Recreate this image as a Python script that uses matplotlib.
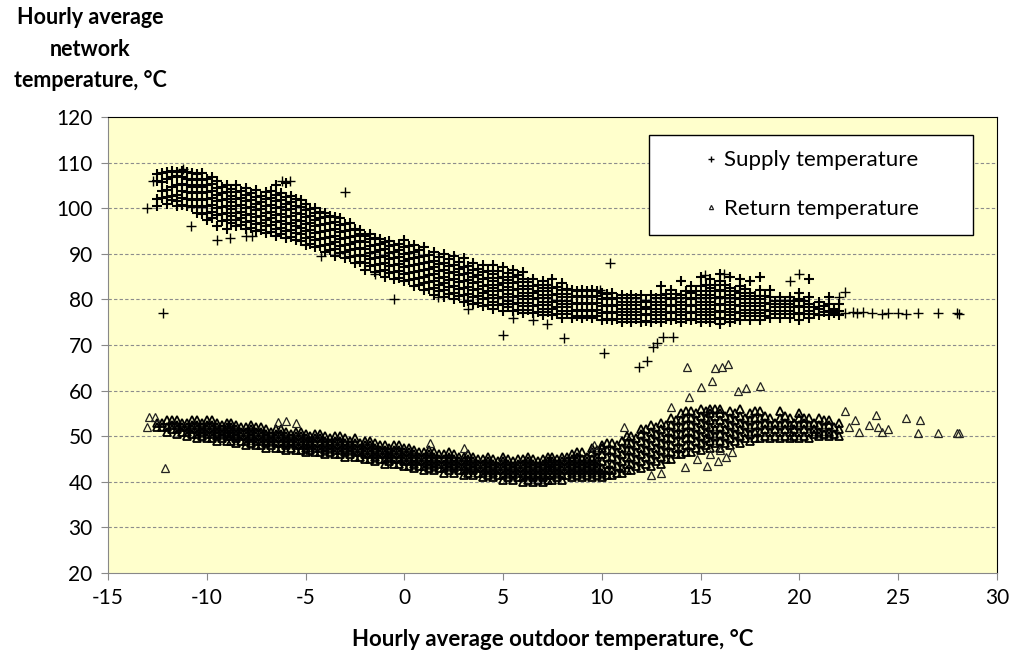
import numpy as np
import matplotlib.pyplot as plt

plt.rcParams['font.family'] = ['Lato', 'DejaVu Sans']
plt.rcParams['axes.unicode_minus'] = False

# supply temperature, dense band read column by column (outdoor temp -> network temps)
sup_cols_x = [-12.5, -12.0, -11.5, -11.0, -10.5, -10.0, -9.5, -9.0, -8.5, -8.0,
              -7.5, -7.0, -6.5, -6.0, -5.5, -5.0, -4.5, -4.0, -3.5, -3.0,
              -2.5, -2.0, -1.5, -1.0, -0.5, 0.0, 0.5, 1.0, 1.5, 2.0,
              2.5, 3.0, 3.5, 4.0, 4.5, 5.0, 5.5, 6.0, 6.5, 7.0,
              7.5, 8.0, 8.5, 9.0, 9.5, 10.0, 10.5, 11.0, 11.5, 12.0,
              12.5, 13.0, 13.5, 14.0, 14.5, 15.0, 15.5, 16.0, 16.5, 17.0,
              17.5, 18.0, 18.5, 19.0, 19.5, 20.0, 20.5, 21.0, 21.5, 22.0]
sup_cols_y = [
    [100.5, 102, 106, 107.5],
    [101, 102.5, 104, 106.5, 108],
    [100.5, 101.5, 103, 105, 107, 108],
    [100.5, 102, 103.5, 105, 106.5, 108],
    [99, 100.5, 102, 103.5, 105, 106.5, 107.5],
    [97.5, 99, 100.5, 102, 103.5, 105, 106.5],
    [96, 98.5, 100, 101.5, 103, 104.5, 106],
    [95.5, 97.5, 99, 100.5, 102, 103.5, 105],
    [96, 97.5, 99, 100.5, 102, 103.5, 105],
    [95.5, 97, 98.5, 100, 101.5, 103, 104.5],
    [95, 96.5, 98, 99.5, 101, 102.5, 104],
    [94.5, 96, 97.5, 99, 100.5, 102, 103.5],
    [94, 95.5, 97, 98.5, 100, 101.5, 103, 105],
    [93.5, 95, 96.5, 98, 99.5, 101, 102.5, 105.5],
    [93, 94.5, 96, 97.5, 99, 100.5, 102],
    [92, 93.5, 95, 96.5, 98, 99.5, 101],
    [91.5, 93, 94.5, 96, 97.5, 99, 100],
    [90.5, 92, 93.5, 95, 96.5, 98, 99],
    [89.5, 91, 92.5, 94, 95.5, 97, 98],
    [89, 90.5, 92, 93.5, 95, 96.5],
    [88, 89.5, 91, 92.5, 94, 95.5],
    [86.5, 88, 89.5, 91, 92.5, 94],
    [86, 87.5, 89, 90.5, 92, 93.5],
    [85, 86.5, 88, 89.5, 91, 92.5],
    [84.5, 86, 87.5, 89, 90.5, 92],
    [84, 85.5, 87, 88.5, 90, 91.5, 93],
    [83, 84.5, 86, 87.5, 89, 90.5, 92],
    [82, 83.5, 85, 86.5, 88, 89.5, 91.5],
    [81, 82.5, 84, 85.5, 87, 88.5, 90.5],
    [80.5, 82, 83.5, 85, 86.5, 88, 90],
    [80, 81.5, 83, 84.5, 86, 87.5, 89.5],
    [79.5, 81, 82.5, 84, 85.5, 87, 89],
    [79, 80.5, 82, 83.5, 85, 86.5, 88],
    [78.5, 80, 81.5, 83, 84.5, 86, 87.5],
    [78, 79.5, 81, 82.5, 84, 85.5, 87.5],
    [77.5, 79, 80.5, 82, 83.5, 85, 87],
    [77.5, 79, 80.5, 82, 83.5, 85, 86.5],
    [77, 78.5, 80, 81.5, 83, 84.5, 86],
    [77, 78.5, 80, 81.5, 83, 84.5],
    [76.5, 78, 79.5, 81, 82.5, 84],
    [76.5, 78, 79.5, 81, 82.5, 84.5],
    [76, 77.5, 79, 80.5, 82, 83.5],
    [76, 77.5, 79, 80.5, 82],
    [76, 77.5, 79, 80.5, 82],
    [76, 77.5, 79, 80.5, 82],
    [75.5, 77, 78.5, 80, 81.5],
    [75.5, 77, 78.5, 80, 81.5],
    [75, 76.5, 78, 79.5, 81],
    [75, 76.5, 78, 79.5, 81],
    [75, 76.5, 78, 79.5, 81],
    [75, 76.5, 78, 79.5, 81],
    [75, 76.5, 78, 79.5, 81, 83],
    [75.5, 77, 78.5, 80, 82],
    [75, 76.5, 78, 79.5, 81, 84],
    [75.5, 77, 78.5, 80, 81.5, 83],
    [75, 76.5, 78, 79.5, 81, 83, 85],
    [75, 76.5, 78, 79.5, 81, 82.5, 84.5],
    [74.5, 76, 77.5, 79, 80.5, 82, 84, 85.5],
    [75, 76.5, 78, 79.5, 81, 82.5, 85],
    [75.5, 77, 78.5, 80, 81.5, 83, 84.5],
    [75.5, 77, 78.5, 80, 81.5, 84],
    [75.5, 77, 78.5, 80, 82, 85],
    [76, 77.5, 79, 80.5, 82],
    [76, 77.5, 79, 80.5],
    [76, 77.5, 79, 80.5],
    [75.5, 77, 78.5, 80, 81.5],
    [76, 77.5, 79, 80.5, 84.5],
    [76.5, 78, 79.5],
    [76.5, 77.5, 79, 80.5],
    [76.5, 77.5, 79],
]
# second pass of supply columns, read between the first ones
sup_cols2_x = [-12.25, -11.75, -11.25, -10.75, -10.25, -9.75, -9.25, -8.75, -8.25, -7.75,
               -7.25, -6.75, -6.25, -5.75, -5.25, -4.75, -4.25, -3.75, -3.25, -2.75,
               -2.25, -1.75, -1.25, -0.75, -0.25, 0.25, 0.75, 1.25, 1.75, 2.25,
               2.75, 3.25, 3.75, 4.25, 4.75, 5.25, 5.75, 6.25, 6.75, 7.25,
               7.75, 8.25, 8.75, 9.25, 9.75, 10.25, 10.75, 11.25, 11.75, 12.25,
               12.75, 13.25, 13.75, 14.25, 14.75, 15.25, 15.75, 16.25, 16.75, 17.25,
               17.75, 18.25, 18.75, 19.25, 19.75, 20.25, 20.75, 21.25, 21.75]
sup_cols2_y = [
    [102.25, 103.75, 105.75, 107.75],
    [101.75, 102.75, 104.75, 106.75, 108.25],
    [100.75, 102.25, 103.75, 105.25, 106.75, 108.25],
    [100.25, 101.75, 103.25, 104.75, 106.25, 107.75],
    [98.75, 100.25, 101.75, 103.25, 104.75, 106.25, 107.75],
    [97.75, 99.25, 100.75, 102.25, 103.75, 105.25, 106.75],
    [97.25, 98.75, 100.25, 101.75, 103.25, 104.75],
    [96.75, 98.25, 99.75, 101.25, 102.75, 104.25],
    [96.25, 97.75, 99.25, 100.75, 102.25, 103.75],
    [95.75, 97.25, 98.75, 100.25, 101.75, 103.25],
    [95.25, 96.75, 98.25, 99.75, 101.25, 102.75],
    [94.75, 96.25, 97.75, 99.25, 100.75, 102.25, 103.75],
    [94.25, 95.75, 97.25, 98.75, 100.25, 101.75, 103.25],
    [93.75, 95.25, 96.75, 98.25, 99.75, 101.25, 102.75],
    [92.75, 94.25, 95.75, 97.25, 98.75, 100.25, 101.75],
    [92.25, 93.75, 95.25, 96.75, 98.25, 99.75],
    [91.75, 93.25, 94.75, 96.25, 97.75, 99.25],
    [90.75, 92.25, 93.75, 95.25, 96.75, 98.25],
    [90.25, 91.75, 93.25, 94.75, 96.25, 97.75],
    [89.25, 90.75, 92.25, 93.75, 95.25, 96.75],
    [88.25, 89.75, 91.25, 92.75, 94.25, 95.25],
    [87.25, 88.75, 90.25, 91.75, 93.25, 94.25],
    [86.25, 87.75, 89.25, 90.75, 92.25, 93.25],
    [85.75, 87.25, 88.75, 90.25, 91.75, 92.75],
    [84.75, 86.25, 87.75, 89.25, 90.75, 92.25],
    [84.25, 85.75, 87.25, 88.75, 90.25, 91.75],
    [83.25, 84.75, 86.25, 87.75, 89.25, 90.75],
    [82.25, 83.75, 85.25, 86.75, 88.25, 89.75],
    [81.75, 83.25, 84.75, 86.25, 87.75, 89.25],
    [81.25, 82.75, 84.25, 85.75, 87.25, 88.75],
    [80.75, 82.25, 83.75, 85.25, 86.75, 88.25],
    [79.75, 81.25, 82.75, 84.25, 85.75, 87.25],
    [79.25, 80.75, 82.25, 83.75, 85.25, 86.75],
    [78.75, 80.25, 81.75, 83.25, 84.75, 86.25],
    [78.75, 80.25, 81.75, 83.25, 84.75, 86.25],
    [78.25, 79.75, 81.25, 82.75, 84.25, 85.75],
    [77.75, 79.25, 80.75, 82.25, 83.75, 85.25],
    [77.75, 79.25, 80.75, 82.25, 83.75],
    [77.25, 78.75, 80.25, 81.75, 83.25],
    [77.25, 78.75, 80.25, 81.75, 83.25],
    [76.75, 78.25, 79.75, 81.25, 82.75],
    [76.75, 78.25, 79.75, 81.25, 82.25],
    [76.25, 77.75, 79.25, 80.75, 81.75],
    [76.25, 77.75, 79.25, 80.75, 81.75],
    [76.25, 77.75, 79.25, 80.75, 81.75],
    [75.75, 77.25, 78.75, 80.25, 81.25],
    [75.75, 77.25, 78.75, 80.25],
    [75.75, 77.25, 78.75, 80.25],
    [75.75, 77.25, 78.75, 80.25],
    [75.25, 76.75, 78.25, 79.75],
    [75.75, 77.25, 78.75, 80.25],
    [75.75, 77.25, 78.75, 80.25, 81.25],
    [75.75, 77.25, 78.75, 80.25, 81.25],
    [75.75, 77.25, 78.75, 80.25, 81.75],
    [75.75, 77.25, 78.75, 80.25, 81.75],
    [75.75, 77.25, 78.75, 80.25, 81.75, 83.25],
    [75.75, 77.25, 78.75, 80.25, 81.75, 83.25],
    [75.75, 77.25, 78.75, 80.25, 81.75, 83.25],
    [75.75, 77.25, 78.75, 80.25, 81.75],
    [76.25, 77.75, 79.25, 80.75, 82.25],
    [76.25, 77.75, 79.25, 80.75],
    [76.25, 77.75, 79.25, 80.75],
    [76.75, 78.25, 79.75],
    [76.75, 78.25, 79.75],
    [76.75, 78.25, 79.75],
    [76.75, 78.25, 79.75],
    [76.75, 78.25],
    [77.25, 78.5],
    [77, 78],
]
# supply outliers and sparse tail
sup_extra_x = [-13.0, -12.7, -12.2, -11.2, -9.5, -8.8, -8.0, -6.2, -5.8, -3.0,
               -0.5, -1.5, 1.7, 5.0, 5.5, 6.5, 8.1, 10.1, 10.4, 11.9,
               12.3, 12.6, 12.8, 13.1, 13.6, 22.3, 22.7, 22.9, 23.2, 23.7,
               24.2, 24.5, 25.0, 25.4, 26.0, 27.0, 28.0, 28.1, 22.0, 22.3,
               20.0, 19.5, 16.2, 15.2, 9.9, 7.2, 3.2, -10.8, -7.7, -4.2]
sup_extra_y = [100.0, 106.0, 77.0, 108.5, 93.0, 93.5, 94.0, 106.0, 106.0, 103.5,
               80.0, 85.5, 80.5, 72.2, 76.0, 75.5, 71.5, 68.2, 88.0, 65.2,
               66.5, 69.5, 70.5, 71.8, 71.8, 77.0, 77.3, 77.0, 77.2, 77.0,
               76.8, 77.0, 77.0, 76.8, 77.0, 77.0, 77.0, 76.8, 80.5, 81.6,
               85.5, 84.0, 85.5, 85.3, 82.0, 74.5, 78.0, 96.0, 94.0, 89.5]

# return temperature, dense band read column by column
ret_cols_x = sup_cols_x
ret_cols_y = [
    [52, 53],
    [51, 52, 53.5],
    [50.5, 51.5, 52.5, 53.5],
    [50, 51, 52, 53],
    [49.5, 50.5, 51.5, 52.5, 53.5],
    [49.5, 50.5, 51.5, 52.5, 53.5],
    [49, 50, 51, 52, 53],
    [49, 50, 51, 52, 53],
    [48.5, 49.5, 50.5, 51.5, 52.5],
    [48, 49, 50, 51, 52],
    [48, 49, 50, 51, 52],
    [47.5, 48.5, 49.5, 50.5, 51.5],
    [47.5, 48.5, 49.5, 50.5, 51.5],
    [47, 48, 49, 50, 51],
    [47, 48, 49, 50, 51],
    [46.5, 47.5, 48.5, 49.5, 50.5],
    [46.5, 47.5, 48.5, 49.5, 50.5],
    [46, 47, 48, 49, 50],
    [46, 47, 48, 49, 50],
    [45.5, 46.5, 47.5, 48.5, 49.5],
    [45.5, 46.5, 47.5, 48.5, 49.5],
    [45, 46, 47, 48, 49],
    [44.5, 45.5, 46.5, 47.5, 48.5],
    [44, 45, 46, 47, 48],
    [44, 45, 46, 47, 48],
    [43.5, 44.5, 45.5, 46.5, 47.5],
    [43, 44, 45, 46, 47],
    [42.5, 43.5, 44.5, 45.5, 46.5],
    [42.5, 43.5, 44.5, 45.5, 46.5],
    [42, 43, 44, 45, 46],
    [42, 43, 44, 45, 46],
    [41.5, 42.5, 43.5, 44.5, 45.5],
    [41.5, 42.5, 43.5, 44.5, 45.5],
    [41, 42, 43, 44, 45],
    [41, 42, 43, 44, 45],
    [40.5, 41.5, 42.5, 43.5, 44.5, 45.5],
    [40.5, 41.5, 42.5, 43.5, 44.5],
    [40, 41, 42, 43, 44, 45],
    [40, 41, 42, 43, 44, 45],
    [40, 41, 42, 43, 44, 45],
    [40.5, 41.5, 42.5, 43.5, 44.5, 45.5],
    [40.5, 41.5, 42.5, 43.5, 44.5, 45.5],
    [41, 42, 43, 44, 45, 46],
    [41, 42, 43, 44, 45, 46.5],
    [41, 42, 43, 44, 45, 46.5, 47.5],
    [41, 42, 43, 44.5, 46, 47.5, 48],
    [41.5, 42.5, 44, 45.5, 47, 48.5],
    [42, 43, 44.5, 46, 47.5, 49],
    [42.5, 44, 45.5, 47, 48.5, 50],
    [43, 44.5, 46, 47.5, 49, 50.5, 51.5],
    [43.5, 45, 46.5, 48, 49.5, 51, 52.5],
    [44, 45.5, 47, 48.5, 50, 51.5, 53],
    [45, 46.5, 48, 49.5, 51, 52.5, 54],
    [46, 47.5, 49, 50.5, 52, 53.5, 55],
    [46.5, 48, 49.5, 51, 52.5, 54, 55.5],
    [47, 48.5, 50, 51.5, 53, 54.5, 56],
    [47.5, 49, 50.5, 52, 53.5, 55, 56],
    [47.5, 49, 50.5, 52, 53.5, 55, 56],
    [48, 49.5, 51, 52.5, 54, 55.5],
    [48.5, 50, 51.5, 53, 54.5, 56],
    [49, 50.5, 52, 53.5, 55],
    [49.5, 51, 52.5, 54, 55.5],
    [49.5, 51, 52.5, 54],
    [49.5, 51, 52.5, 54, 55.5],
    [49.5, 51, 52.5, 54],
    [49.5, 51, 52.5, 54, 55],
    [49.5, 51, 52.5, 54],
    [50, 51, 52.5, 54],
    [50, 51, 52.5, 53.5],
    [50, 51.5, 53],
]
ret_cols2_x = sup_cols2_x
ret_cols2_y = [
    [52, 53],
    [51.5, 52.5, 53.5],
    [51, 52, 53],
    [50.5, 51.5, 52.5, 53.5],
    [50, 51, 52, 53],
    [49.5, 50.5, 51.5, 52.5, 53.5],
    [49.5, 50.5, 51.5, 52.5],
    [49, 50, 51, 52, 53],
    [49, 50, 51, 52],
    [48.5, 49.5, 50.5, 51.5, 52.5],
    [48, 49, 50, 51, 52],
    [48, 49, 50, 51],
    [47.5, 48.5, 49.5, 50.5, 51.5],
    [47.5, 48.5, 49.5, 50.5],
    [47, 48, 49, 50, 51],
    [47, 48, 49, 50],
    [46.5, 47.5, 48.5, 49.5, 50.5],
    [46.5, 47.5, 48.5, 49.5],
    [46, 47, 48, 49, 50],
    [46, 47, 48, 49],
    [45.5, 46.5, 47.5, 48.5],
    [45, 46, 47, 48, 49],
    [45, 46, 47, 48],
    [44.5, 45.5, 46.5, 47.5],
    [44, 45, 46, 47, 48],
    [43.5, 44.5, 45.5, 46.5, 47.5],
    [43.5, 44.5, 45.5, 46.5],
    [43, 44, 45, 46, 47],
    [43, 44, 45, 46],
    [42.5, 43.5, 44.5, 45.5, 46.5],
    [42.5, 43.5, 44.5, 45.5],
    [42, 43, 44, 45, 46],
    [42, 43, 44, 45],
    [41.5, 42.5, 43.5, 44.5, 45.5],
    [41.5, 42.5, 43.5, 44.5],
    [41, 42, 43, 44, 45],
    [41, 42, 43, 44, 45],
    [40.5, 41.5, 42.5, 43.5, 44.5, 45.5],
    [40.5, 41.5, 42.5, 43.5, 44.5],
    [40.5, 41.5, 42.5, 43.5, 44.5, 45.5],
    [41, 42, 43, 44, 45],
    [41.5, 42.5, 43.5, 44.5, 45.5],
    [41.5, 42.5, 43.5, 44.5, 45.5, 46.5],
    [41.5, 42.5, 43.5, 44.5, 45.5],
    [41.5, 42.5, 43.5, 44.5, 45.5, 47],
    [41.5, 42.5, 44, 45.5, 47, 48.5],
    [42, 43.5, 45, 46.5, 48],
    [42.5, 44, 45.5, 47, 48.5, 50],
    [43.5, 45, 46.5, 48, 49.5],
    [44, 45.5, 47, 48.5, 50, 51.5],
    [44.5, 46, 47.5, 49, 50.5, 52],
    [45, 46.5, 48, 49.5, 51, 52.5],
    [46, 47.5, 49, 50.5, 52, 53.5],
    [46.5, 48, 49.5, 51, 52.5, 54, 55.5],
    [47.5, 49, 50.5, 52, 53.5, 55],
    [48, 49.5, 51, 52.5, 54, 55.5],
    [48.5, 50, 51.5, 53, 54.5, 56],
    [48.5, 50, 51.5, 53, 54.5],
    [49, 50.5, 52, 53.5, 55],
    [49.5, 51, 52.5, 54],
    [49.5, 51, 52.5, 54, 55.5],
    [50, 51.5, 53, 54.5],
    [50, 51.5, 53],
    [50, 51.5, 53, 54.5],
    [50, 51.5, 53],
    [50, 51.5, 53, 54],
    [50.5, 51.5, 53],
    [50.5, 52, 53.5],
    [50.5, 52],
]
# return outliers and sparse tail
ret_extra_x = [-13.0, -12.9, -12.6, -12.1, -6.4, -6.0, -5.5, 14.2, 15.3, 15.9,
               16.3, 16.6, 14.8, 15.5, 16.0, 14.3, 15.75, 16.1, 16.4, 15.6,
               15.0, 18.0, 14.4, 13.5, 11.1, 23.9, 25.4, 26.1, 26.0, 27.0,
               28.0, 28.1, 22.5, 23.0, 23.5, 24.2, 24.5, 24.0, 22.3, 22.8,
               17.3, 16.9, 13.0, 1.3, 3.0, 9.6, 12.5]
ret_extra_y = [52.0, 54.2, 54.3, 43.0, 53.2, 53.3, 53.0, 43.3, 43.5, 44.5,
               45.5, 46.5, 45.0, 46.0, 47.0, 65.2, 65.0, 65.2, 65.8, 62.0,
               60.8, 61.0, 58.5, 56.5, 52.0, 54.6, 54.0, 53.5, 50.7, 50.7,
               50.7, 50.7, 52.0, 51.0, 52.5, 51.0, 51.5, 52.0, 55.5, 53.5,
               60.5, 60.0, 42.0, 48.5, 47.5, 48.0, 41.5]

x_ticks = [-15, -10, -5, 0, 5, 10, 15, 20, 25, 30]
y_ticks = [20, 30, 40, 50, 60, 70, 80, 90, 100, 110, 120]


def flatten(col_x, col_y):
    xs, ys = [], []
    for cx, vals in zip(col_x, col_y):
        xs += [cx] * len(vals)
        ys += vals
    return xs, ys


sx1, sy1 = flatten(sup_cols_x, sup_cols_y)
sx2, sy2 = flatten(sup_cols2_x, sup_cols2_y)
rx1, ry1 = flatten(ret_cols_x, ret_cols_y)
rx2, ry2 = flatten(ret_cols2_x, ret_cols2_y)

fig = plt.figure(figsize=(10.12, 6.55), dpi=100)
ax = fig.add_axes([0.1067, 0.1252, 0.8784, 0.6962])
ax.set_facecolor('#ffffcc')

for yv in y_ticks[1:-1]:
    ax.axhline(yv, color='#8c8c8c', lw=0.8, ls=(0, (3, 2)), zorder=1)

# dense cores (heavier strokes so the overlap reads as solid black)
ax.plot(sx1 + sx2, sy1 + sy2, ls='none', marker='+', ms=7.5, mew=1.5,
        color='black', zorder=3)
ax.plot(rx1 + rx2, ry1 + ry2, ls='none', marker='^', ms=6, mew=1.3,
        mfc='none', mec='black', zorder=3)
# scattered points
ax.plot(sup_extra_x, sup_extra_y, ls='none', marker='+', ms=7, mew=1.0,
        color='black', zorder=3, label='Supply temperature')
ax.plot(ret_extra_x, ret_extra_y, ls='none', marker='^', ms=5.5, mew=0.9,
        mfc='none', mec='#222222', zorder=3, label='Return temperature')

ax.set_xlim(-15, 30)
ax.set_ylim(20, 120)
ax.set_xticks(x_ticks)
ax.set_yticks(y_ticks)
ax.tick_params(direction='out', length=5, color='#888888', labelsize=15, pad=6)

for s in ['left', 'bottom']:
    ax.spines[s].set_color('#888888')
for s in ['top', 'right']:
    ax.spines[s].set_color('black')

leg = ax.legend(loc='upper left', bbox_to_anchor=(0.609, 0.961, 0.364, 0.0),
                mode='expand', frameon=True, fancybox=False, edgecolor='black',
                framealpha=1, fontsize=16, markerscale=0.55, handlelength=4.19,
                handletextpad=-1.51, borderpad=0.7, labelspacing=1.3,
                borderaxespad=0)
leg.get_frame().set_linewidth(1.0)

ax.set_xlabel('Hourly average outdoor temperature, °C', fontsize=16,
              fontweight='bold', labelpad=15)
fig.text(0.089, 0.925, 'Hourly average\nnetwork\ntemperature, °C', ha='center',
         va='center', fontsize=15.5, fontweight='bold', linespacing=1.6)

fig.savefig('out.png', dpi=100)
